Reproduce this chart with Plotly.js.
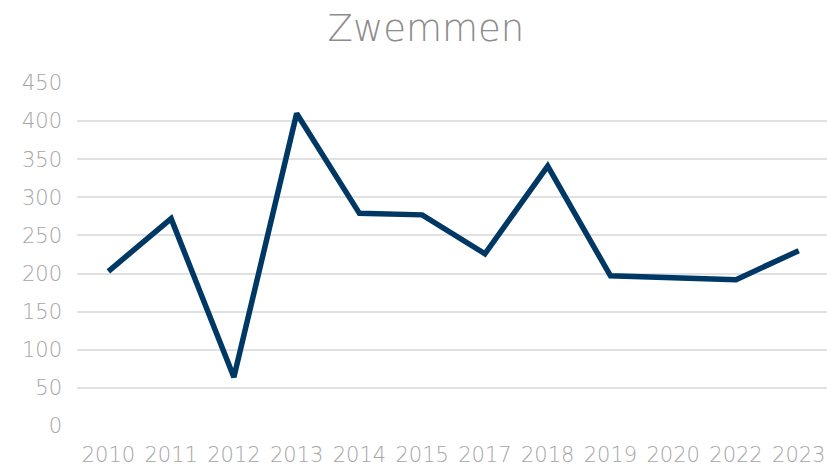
<!DOCTYPE html>
<html>
<head>
<meta charset="utf-8">
<script src="https://cdn.plot.ly/plotly-3.0.1.min.js"></script>
<style>html,body{margin:0;padding:0;background:#fff;}#chart{width:827px;height:466px;}</style>
</head>
<body>
<div id="chart"></div>
<script>
const years = ["2010","2011","2012","2013","2014","2015","2017","2018","2019","2020","2022","2023"];
const zwemmen = [203, 272, 64, 410, 279, 277, 226, 341, 197, 195, 192, 230];
const yTicks = [0, 50, 100, 150, 200, 250, 300, 350, 400, 450];

const fontFam = "'DejaVu Sans', sans-serif";
Plotly.newPlot('chart', [{
  x: years,
  y: zwemmen,
  type: 'scatter',
  mode: 'lines',
  line: {color: '#003865', width: 5.5},
  hoverinfo: 'skip'
}], {
  width: 827, height: 466,
  margin: {l: 77, r: 0, t: 83, b: 40},
  paper_bgcolor: '#fff', plot_bgcolor: '#fff',
  showlegend: false,
  title: {text: 'Zwemmen', x: 0.515, xanchor: 'center', y: 0.94, yanchor: 'middle',
          font: {family: fontFam, size: 37, color: '#8c8c8c', weight: 200}},
  xaxis: {type: 'category', range: [-0.5, 11.45], showgrid: false, zeroline: false,
          showline: false, ticks: '', tickfont: {family: fontFam, size: 21, color: '#a6a6a6', weight: 200},
          ticklabelstandoff: 14},
  yaxis: {range: [0, 450], tickvals: yTicks, showgrid: true, gridcolor: '#e1e1e1', gridwidth: 2,
          zeroline: false, showline: false, ticks: '', ticklabelstandoff: 14,
          tickfont: {family: fontFam, size: 21, color: '#a6a6a6', weight: 200}}
}, {staticPlot: true});
</script>
</body>
</html>
